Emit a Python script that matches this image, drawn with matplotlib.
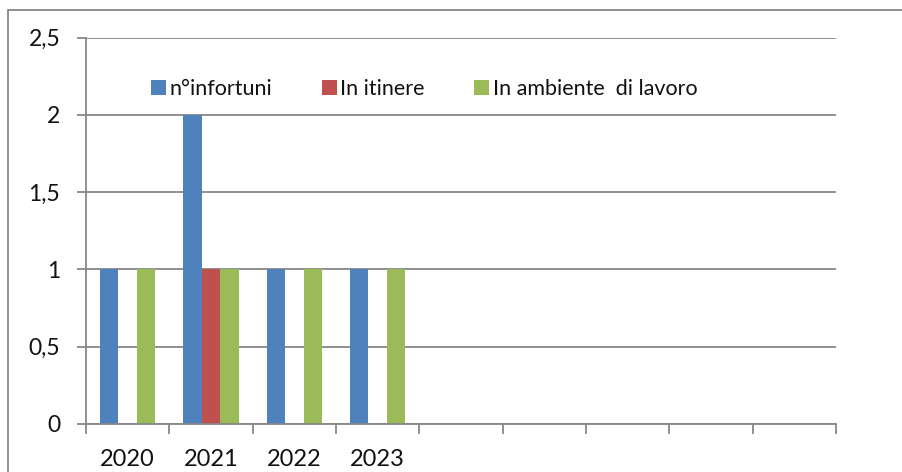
import numpy as np
import matplotlib
matplotlib.use("Agg")
import matplotlib.pyplot as plt
from matplotlib.ticker import FuncFormatter, MultipleLocator
from matplotlib.patches import Rectangle

plt.rcParams['font.family'] = ['Lato', 'DejaVu Sans']

# data
categorie = ["2020", "2021", "2022", "2023", "", "", "", "", ""]
infortuni = [1, 2, 1, 1]
itinere = [0, 1, 0, 0]
ambiente = [1, 1, 1, 1]
serie_nomi = ["n°infortuni", "In itinere", "In ambiente  di lavoro"]
colori = ["#4F81BD", "#C0504D", "#9BBB59"]

grigio = "#878787"

fig = plt.figure(figsize=(9.02, 4.72), dpi=100)
ax = fig.add_axes([86 / 902, 1 - 423.7 / 472, 750 / 902, 386 / 472])

# bordo esterno del grafico (tagliato a destra e in basso)
fig.patches.append(Rectangle((8 / 902, -0.1), 1.2, 1 - 10 / 472 + 0.1,
                             transform=fig.transFigure, fill=False,
                             edgecolor=grigio, lw=1.3, zorder=0))

w = 0.222
x = np.arange(len(infortuni))
serie = [infortuni, itinere, ambiente]
for k in range(3):
    ax.bar(x + (k - 1) * w, serie[k], width=w, color=colori[k],
           label=serie_nomi[k], zorder=3)

ax.set_xlim(-0.5, len(categorie) - 0.5)
ax.set_ylim(0, 2.5)
ax.yaxis.set_major_locator(MultipleLocator(0.5))
ax.yaxis.set_major_formatter(FuncFormatter(lambda v, p: ("%g" % v).replace(".", ",")))

ax.set_xticks(np.arange(len(categorie)))
ax.set_xticklabels(categorie)
ax.set_xticks(np.arange(len(categorie) + 1) - 0.5, minor=True)
ax.tick_params(axis='x', which='major', length=0, pad=18, labelsize=17, labelcolor='#111111')
ax.tick_params(axis='x', which='minor', length=7, width=1.3, color=grigio)
ax.tick_params(axis='y', length=6.5, width=1.3, color=grigio, pad=12, labelsize=16.5,
               labelcolor='#111111')

ax.grid(axis='y', color=grigio, lw=1.3, zorder=0)
for s in ['top', 'right']:
    ax.spines[s].set_visible(False)
for s in ['left', 'bottom']:
    ax.spines[s].set_color(grigio)
    ax.spines[s].set_linewidth(1.3)
    ax.spines[s].set_zorder(4)

leg = ax.legend(loc='center', bbox_to_anchor=(0.451, 0.867), ncol=3, frameon=False,
                fontsize=15.5, handlelength=0.7, handleheight=0.7, handletextpad=0.15,
                columnspacing=2.3, borderpad=0)
for t in leg.get_texts():
    t.set_color('#111111')

fig.savefig("out.png", dpi=100)
